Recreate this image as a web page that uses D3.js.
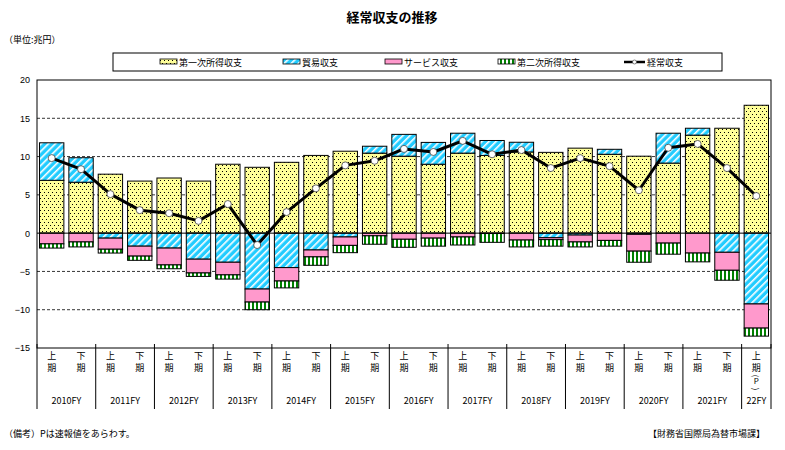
<!DOCTYPE html>
<html>
<head>
<meta charset="utf-8">
<script src="https://cdn.jsdelivr.net/npm/d3@7"></script>
<style>
  body { margin: 0; background: #fff; }
  text { font-family: "Noto Sans CJK JP", "Liberation Sans", sans-serif; fill: #000; }
</style>
</head>
<body>
<script>
// chart values (兆円)
var halves = ["上期","下期","上期","下期","上期","下期","上期","下期","上期","下期","上期","下期","上期","下期","上期","下期","上期","下期","上期","下期","上期","下期","上期","下期","上期"];
var years = ["2010FY","2011FY","2012FY","2013FY","2014FY","2015FY","2016FY","2017FY","2018FY","2019FY","2020FY","2021FY","22FY"];
var primary   = [6.9, 6.65, 7.7, 6.8, 7.2, 6.8, 9.0, 8.6, 9.25, 10.15, 10.7, 10.45, 10.05, 9.0, 10.45, 10.15, 10.6, 10.55, 11.1, 10.3, 10.05, 9.15, 12.8, 13.7, 16.7];
var trade     = [4.9, 3.2, -0.65, -1.7, -1.95, -3.4, -3.8, -7.3, -4.5, -2.2, -0.5, 0.9, 2.85, 2.85, 2.6, 1.95, 1.27, -0.6, -0.25, 0.65, -0.15, 3.9, 0.9, -2.5, -9.25];
var services  = [-1.4, -1.15, -1.45, -1.3, -2.2, -1.8, -1.65, -1.7, -1.75, -0.9, -1.1, -0.35, -0.8, -0.65, -0.5, -0.05, -0.9, -0.25, -0.9, -0.95, -2.2, -1.3, -2.6, -2.35, -3.15];
var secondary = [-0.55, -0.65, -0.5, -0.55, -0.5, -0.45, -0.55, -1.0, -0.9, -1.1, -0.95, -1.1, -1.05, -1.05, -1.05, -1.15, -0.9, -0.85, -0.65, -0.75, -1.45, -1.45, -1.15, -1.3, -1.05];
var current   = [9.8, 8.35, 5.1, 3.0, 2.6, 1.6, 3.8, -1.55, 2.75, 5.85, 8.85, 9.45, 11.0, 10.6, 12.05, 10.3, 10.85, 8.5, 9.8, 8.75, 5.6, 11.15, 11.65, 8.5, 4.85];
var yTicks = [20, 15, 10, 5, 0, -5, -10, -15];

var keys = ["primary", "trade", "services", "secondary"];
var names = {primary: "第一次所得収支", trade: "貿易収支", services: "サービス収支", secondary: "第二次所得収支"};
var fills = {primary: "url(#dots)", trade: "url(#hatch)", services: "#ff99cc", secondary: "url(#vstripe)"};

var width = 785, height = 450;
var plotL = 37, plotR = 771, plotT = 80, plotB = 348;

var rows = halves.map(function(h, i) {
  return {i: i, primary: primary[i], trade: trade[i], services: services[i], secondary: secondary[i]};
});

var svg = d3.select("body").append("svg")
  .attr("width", width)
  .attr("height", height);

// patterns
var defs = svg.append("defs");
var p1 = defs.append("pattern").attr("id", "dots").attr("patternUnits", "userSpaceOnUse")
  .attr("width", 4).attr("height", 6);
p1.append("rect").attr("width", 4).attr("height", 6).attr("fill", "#ffff99");
p1.append("rect").attr("x", 0).attr("y", 0).attr("width", 1).attr("height", 1).attr("fill", "#000");
p1.append("rect").attr("x", 2).attr("y", 3).attr("width", 1).attr("height", 1).attr("fill", "#000");

var p2 = defs.append("pattern").attr("id", "hatch").attr("patternUnits", "userSpaceOnUse")
  .attr("width", 5).attr("height", 5).attr("patternTransform", "rotate(45)");
p2.append("rect").attr("width", 5).attr("height", 5).attr("fill", "#22ccff");
p2.append("rect").attr("width", 1.6).attr("height", 5).attr("fill", "#fff");

var p3 = defs.append("pattern").attr("id", "vstripe").attr("patternUnits", "userSpaceOnUse")
  .attr("width", 4).attr("height", 4);
p3.append("rect").attr("width", 4).attr("height", 4).attr("fill", "#008000");
p3.append("rect").attr("x", 2).attr("width", 2).attr("height", 4).attr("fill", "#fff");

// scales
var x = d3.scaleBand().domain(d3.range(halves.length)).range([plotL, plotR])
  .paddingInner(0.17).paddingOuter(0.085);
var y = d3.scaleLinear().domain([-15, 20]).range([plotB, plotT]);

// title and notes
svg.append("text").attr("x", 392).attr("y", 22).attr("text-anchor", "middle")
  .attr("font-size", "13px").attr("font-weight", "bold").text("経常収支の推移");
svg.append("text").attr("x", 4).attr("y", 43).attr("font-size", "9px").text("（単位:兆円）");
svg.append("text").attr("x", 4).attr("y", 437).attr("font-size", "9px").text("（備考）Pは速報値をあらわす。");
svg.append("text").attr("x", 765).attr("y", 437).attr("text-anchor", "end")
  .attr("font-size", "9px").text("【財務省国際局為替市場課】");

// gridlines
svg.append("g").selectAll("line")
  .data(yTicks.filter(function(t) { return t !== 0 && t !== 20 && t !== -15; }))
  .enter().append("line")
  .attr("x1", plotL).attr("x2", plotR)
  .attr("y1", function(d) { return y(d); }).attr("y2", function(d) { return y(d); })
  .attr("stroke", "#000").attr("stroke-width", 0.8).attr("stroke-dasharray", "3,2");

// y axis labels
var yAxis = svg.append("g").attr("transform", "translate(" + plotL + ",0)")
  .call(d3.axisLeft(y).tickValues(yTicks).tickSize(0).tickPadding(7));
yAxis.select(".domain").remove();
yAxis.selectAll("text").attr("font-size", "9px")
  .style("font-family", "'Liberation Sans', sans-serif");

// stacked bars
var series = d3.stack().keys(keys).offset(d3.stackOffsetDiverging)(rows);
svg.append("g").selectAll("g")
  .data(series)
  .enter().append("g")
  .attr("fill", function(d) { return fills[d.key]; })
  .selectAll("rect")
  .data(function(d) { return d; })
  .enter().append("rect")
  .attr("x", function(d) { return x(d.data.i); })
  .attr("width", x.bandwidth())
  .attr("y", function(d) { return y(Math.max(d[0], d[1])); })
  .attr("height", function(d) { return Math.abs(y(d[0]) - y(d[1])); })
  .attr("stroke", "#000").attr("stroke-width", 1);

// zero line
svg.append("line").attr("x1", plotL).attr("x2", plotR).attr("y1", y(0)).attr("y2", y(0))
  .attr("stroke", "#000").attr("stroke-width", 1);

// current account line
var line = d3.line()
  .x(function(d, i) { return x(i) + x.bandwidth() / 2; })
  .y(function(d) { return y(d); });
svg.append("path").datum(current).attr("d", line)
  .attr("fill", "none").attr("stroke", "#000").attr("stroke-width", 3)
  .attr("stroke-linejoin", "round");
svg.append("g").selectAll("circle")
  .data(current).enter().append("circle")
  .attr("cx", function(d, i) { return x(i) + x.bandwidth() / 2; })
  .attr("cy", function(d) { return y(d); })
  .attr("r", 3.5).attr("fill", "#fff").attr("stroke", "#444").attr("stroke-width", 0.8);

// plot frame
svg.append("rect").attr("x", plotL).attr("y", plotT).attr("width", plotR - plotL).attr("height", plotB - plotT)
  .attr("fill", "none").attr("stroke", "#000").attr("stroke-width", 1);

// x axis category labels
var step = x.step();
var xg = svg.append("g");
halves.forEach(function(h, i) {
  var cx = x(i) + x.bandwidth() / 2;
  h.split("").forEach(function(c, k) {
    xg.append("text").attr("x", cx).attr("y", 359 + k * 12).attr("text-anchor", "middle")
      .attr("font-size", "9px").text(c);
  });
  if (i === halves.length - 1) {
    // preliminary mark (P) written vertically
    xg.append("text").attr("x", cx).attr("y", 376).attr("text-anchor", "middle")
      .attr("dominant-baseline", "central").attr("font-size", "8px")
      .attr("transform", "rotate(90," + cx + ",376)").text("(");
    xg.append("text").attr("x", cx).attr("y", 384).attr("text-anchor", "middle")
      .attr("font-size", "8px").text("P");
    xg.append("text").attr("x", cx).attr("y", 389).attr("text-anchor", "middle")
      .attr("dominant-baseline", "central").attr("font-size", "8px")
      .attr("transform", "rotate(90," + cx + ",389)").text(")");
  }
});
// year labels and separators
years.forEach(function(yr, j) {
  var a = plotL + j * 2 * step;
  var b = Math.min(a + 2 * step, plotR);
  xg.append("text").attr("x", (a + b) / 2).attr("y", 404).attr("text-anchor", "middle")
    .attr("font-size", "9px").text(yr);
});
var seps = d3.range(0, halves.length + 1, 2).map(function(k) { return plotL + k * step; });
seps.push(plotR);
xg.selectAll("line").data(seps).enter().append("line")
  .attr("x1", function(d) { return d; }).attr("x2", function(d) { return d; })
  .attr("y1", plotB - 4).attr("y2", 409)
  .attr("stroke", "#000").attr("stroke-width", 1);

// legend
svg.append("rect").attr("x", 113).attr("y", 53).attr("width", 609).attr("height", 18)
  .attr("fill", "#fff").attr("stroke", "#000").attr("stroke-width", 1);
var legX = [160, 283, 385, 498];
keys.forEach(function(k, i) {
  svg.append("rect").attr("x", legX[i]).attr("y", 59).attr("width", 17).attr("height", 5)
    .attr("fill", fills[k]).attr("stroke", "#000").attr("stroke-width", 0.8);
  svg.append("text").attr("x", legX[i] + 19).attr("y", 65.5).attr("font-size", "9px").text(names[k]);
});
svg.append("line").attr("x1", 624).attr("x2", 645).attr("y1", 62).attr("y2", 62)
  .attr("stroke", "#000").attr("stroke-width", 2.5);
svg.append("circle").attr("cx", 634.5).attr("cy", 62).attr("r", 2)
  .attr("fill", "#fff").attr("stroke", "#444").attr("stroke-width", 0.6);
svg.append("text").attr("x", 647).attr("y", 65.5).attr("font-size", "9px").text("経常収支");
</script>
</body>
</html>
